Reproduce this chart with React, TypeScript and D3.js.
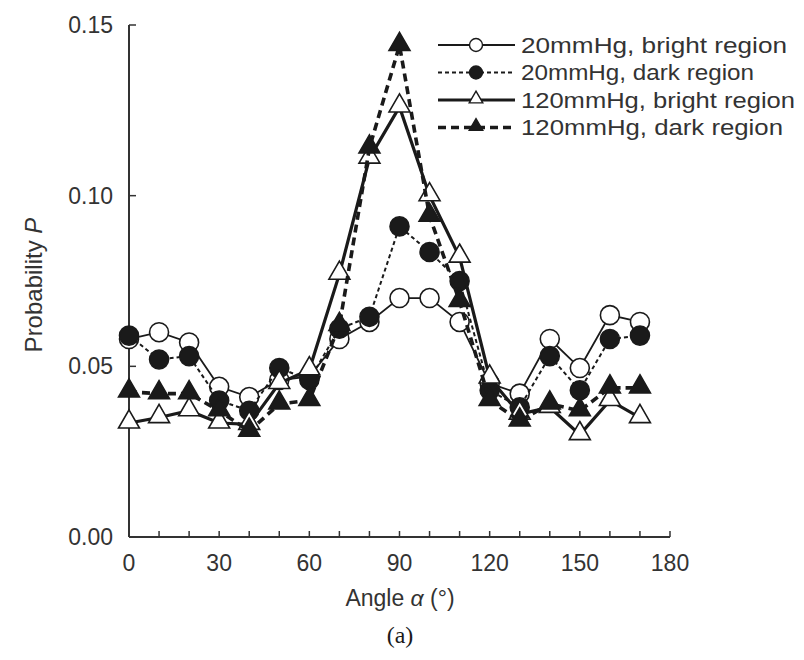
import React, { useEffect, useRef } from "react";
import * as d3 from "d3";

const angles = [0, 10, 20, 30, 40, 50, 60, 70, 80, 90, 100, 110, 120, 130, 140, 150, 160, 170];

const bright20 = [0.058, 0.060, 0.057, 0.044, 0.041, 0.046, 0.047, 0.058, 0.063, 0.070, 0.070, 0.063, 0.045, 0.042, 0.058, 0.0495, 0.065, 0.063];
const dark20 = [0.059, 0.052, 0.053, 0.040, 0.037, 0.0495, 0.046, 0.061, 0.0645, 0.091, 0.0835, 0.075, 0.043, 0.038, 0.053, 0.043, 0.058, 0.059];
const bright120 = [0.0334, 0.035, 0.037, 0.0334, 0.033, 0.045, 0.049, 0.077, 0.111, 0.126, 0.100, 0.082, 0.0466, 0.036, 0.038, 0.030, 0.040, 0.035];
const dark120 = [0.0425, 0.042, 0.042, 0.037, 0.031, 0.039, 0.040, 0.062, 0.114, 0.144, 0.094, 0.069, 0.040, 0.034, 0.039, 0.037, 0.0437, 0.0437];

const seriesNames = ["20mmHg, bright region", "20mmHg, dark region", "120mmHg, bright region", "120mmHg, dark region"];
const legendWidths = [266, 233, 274, 262];
const xTickLabels = [0, 30, 60, 90, 120, 150, 180];
const yTickLabels = [0, 0.05, 0.1, 0.15];

const W = 804;
const H = 660;
const ink = "#1a1a1a";

export default function App() {
  const ref = useRef<SVGSVGElement>(null);

  useEffect(() => {
    const svg = d3.select(ref.current);
    svg.selectAll("*").remove();

    const x = d3.scaleLinear().domain([0, 180]).range([129, 670]);
    const y = d3.scaleLinear().domain([0, 0.15]).range([537, 25]);

    const font = "'Liberation Sans', Arial, sans-serif";

    // axes
    const g = svg.append("g");
    g.append("line").attr("x1", x(0)).attr("x2", x(180)).attr("y1", y(0)).attr("y2", y(0))
      .attr("stroke", "#333").attr("stroke-width", 2);
    g.append("line").attr("x1", x(0)).attr("x2", x(0)).attr("y1", y(0)).attr("y2", y(0.15))
      .attr("stroke", "#333").attr("stroke-width", 2);

    d3.range(0, 181, 10).forEach((t) => {
      g.append("line").attr("x1", x(t)).attr("x2", x(t)).attr("y1", y(0)).attr("y2", y(0) - 6)
        .attr("stroke", "#333").attr("stroke-width", 1.5);
    });
    yTickLabels.forEach((t) => {
      g.append("line").attr("x1", x(0)).attr("x2", x(0) + 7).attr("y1", y(t)).attr("y2", y(t))
        .attr("stroke", "#333").attr("stroke-width", 1.5);
      g.append("text").attr("x", 113).attr("y", y(t)).attr("dy", "0.35em")
        .attr("text-anchor", "end").attr("font-family", font).attr("font-size", 23).attr("fill", "#333")
        .text(d3.format(".2f")(t));
    });
    xTickLabels.forEach((t) => {
      g.append("text").attr("x", x(t)).attr("y", 563).attr("dy", "0.35em")
        .attr("text-anchor", "middle").attr("font-family", font).attr("font-size", 23).attr("fill", "#333")
        .text(t);
    });

    const xt = g.append("text").attr("x", 400).attr("y", 598).attr("dy", "0.35em")
      .attr("text-anchor", "middle").attr("font-family", font).attr("font-size", 23).attr("fill", "#333");
    xt.append("tspan").text("Angle ");
    xt.append("tspan").attr("font-style", "italic").text("α");
    xt.append("tspan").text(" (°)");

    const yt = g.append("text").attr("transform", "translate(34,285) rotate(-90)").attr("dy", "0.35em")
      .attr("text-anchor", "middle").attr("font-family", font).attr("font-size", 24).attr("fill", "#333");
    yt.append("tspan").text("Probability ");
    yt.append("tspan").attr("font-style", "italic").text("P");

    g.append("text").attr("x", 400).attr("y", 635).attr("dy", "0.35em").attr("text-anchor", "middle")
      .attr("font-family", "'Liberation Serif', 'Times New Roman', serif").attr("font-size", 24).attr("fill", ink)
      .text("(a)");

    const series = [
      { data: bright20, width: 1.8, dash: null, shape: "circle", fill: "#fff" },
      { data: dark20, width: 2, dash: "4,3", shape: "circle", fill: ink },
      { data: bright120, width: 3.2, dash: null, shape: "triangle", fill: "#fff" },
      { data: dark120, width: 3.6, dash: "8,5", shape: "triangle", fill: ink },
    ];

    const line = d3.line<number>().x((_, i) => x(angles[i])).y((d) => y(d));
    const tri = (s: number) => d3.symbol().type(d3.symbolTriangle).size(s)();

    series.forEach((s) => {
      svg.append("path").attr("d", line(s.data)).attr("fill", "none").attr("stroke", ink)
        .attr("stroke-width", s.width).attr("stroke-dasharray", s.dash);
      const pts = svg.append("g");
      s.data.forEach((v, i) => {
        if (s.shape === "circle") {
          pts.append("circle").attr("cx", x(angles[i])).attr("cy", y(v)).attr("r", 9.5)
            .attr("fill", s.fill).attr("stroke", ink).attr("stroke-width", 1.6);
        } else {
          pts.append("path").attr("d", tri(190)).attr("transform", `translate(${x(angles[i])},${y(v) - 1})`)
            .attr("fill", s.fill).attr("stroke", ink).attr("stroke-width", 1.6);
        }
      });
    });

    // legend
    const lg = svg.append("g");
    series.forEach((s, i) => {
      const ly = 45 + i * 27.5;
      lg.append("line").attr("x1", 438).attr("x2", 515).attr("y1", ly).attr("y2", ly)
        .attr("stroke", ink).attr("stroke-width", s.width).attr("stroke-dasharray", s.dash);
      if (s.shape === "circle") {
        lg.append("circle").attr("cx", 476).attr("cy", ly).attr("r", 6.5)
          .attr("fill", s.fill).attr("stroke", ink).attr("stroke-width", 1.4);
      } else {
        lg.append("path").attr("d", tri(80)).attr("transform", `translate(476,${ly - 1})`)
          .attr("fill", s.fill).attr("stroke", ink).attr("stroke-width", 1.4);
      }
      lg.append("text").attr("x", 521).attr("y", ly).attr("dy", "0.35em")
        .attr("font-family", font).attr("font-size", 22).attr("fill", "#333")
        .attr("textLength", legendWidths[i]).attr("lengthAdjust", "spacingAndGlyphs")
        .text(seriesNames[i]);
    });
  }, []);

  return (
    <svg ref={ref} width={W} height={H}
      style={{ position: "absolute", left: 0, top: 0, background: "#fff", display: "block" }} />
  );
}
